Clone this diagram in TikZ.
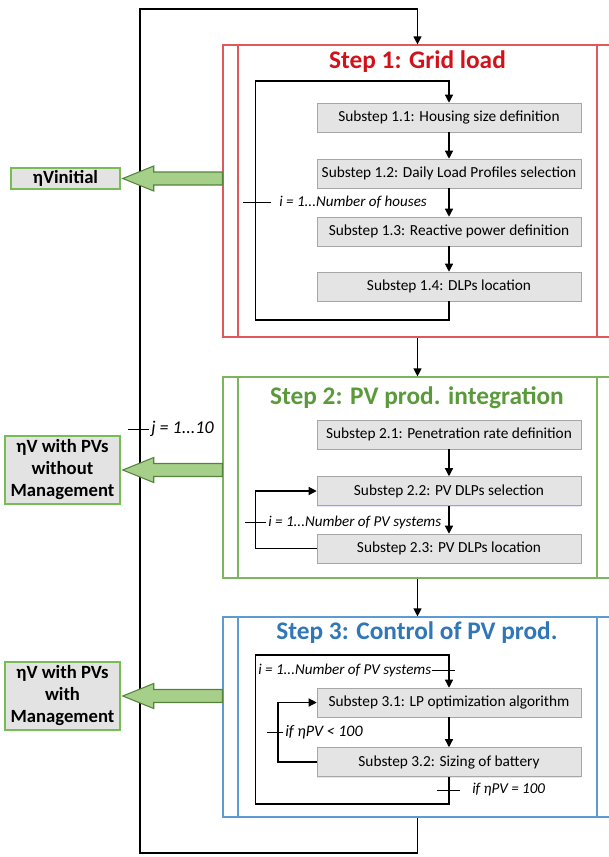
\documentclass[tikz,border=0pt]{standalone}
\usepackage{fontspec}
\setmainfont{Carlito}
\usepackage{tikz}
\usetikzlibrary{arrows.meta,calc,shadows}
\definecolor{stepred}{HTML}{E2575C}
\definecolor{titlered}{HTML}{D3111B}
\definecolor{stepgreen}{HTML}{7DB55E}
\definecolor{titlegreen}{HTML}{5A9A3B}
\definecolor{stepblue}{HTML}{5E9BD3}
\definecolor{titleblue}{HTML}{2F77B8}
\definecolor{subgray}{HTML}{E4E4E4}
\definecolor{arrgreen}{HTML}{A6D08A}
\definecolor{outgreen}{HTML}{78BC55}

\begin{document}
\begin{tikzpicture}[x=0.75pt, y=-0.75pt,
	stepbox/.style={draw=#1, line width=0.9pt, minimum width=291.75pt, path picture={
		\draw[#1, line width=0.9pt] ([xshift=11.25pt]path picture bounding box.north west) -- ([xshift=11.25pt]path picture bounding box.south west)
		([xshift=-11.25pt]path picture bounding box.north east) -- ([xshift=-11.25pt]path picture bounding box.south east);}},
	steptitle/.style={text=#1, font=\fontsize{19}{22}\selectfont\bfseries, inner sep=0pt},
	substep/.style={draw=gray!70, fill=subgray, minimum width=198pt, minimum height=21.75pt, inner sep=0pt,
		font=\fontsize{11.5}{13}\selectfont, drop shadow={shadow xshift=0pt, shadow yshift=-1pt, fill=blue!20, opacity=0.5}},
	result/.style={draw=outgreen, line width=1.1pt, fill=gray!22, font=\fontsize{14}{16.5}\selectfont\bfseries, align=center, inner sep=0pt},
	loopnote/.style={font=\fontsize{11.3}{13}\selectfont\itshape, inner sep=0pt, anchor=west},
	flow/.style={-{Triangle[length=6pt,width=6pt]}, line width=0.9pt},
	bigarrow/.style={draw=outgreen!70!black, fill=arrgreen, line width=0.8pt}]
\useasboundingbox (0,0) rectangle (609,857);

\node[stepbox=stepred, minimum height=219pt] (s1) at (417.5,191) {};
\node[stepbox=stepgreen, minimum height=150.75pt] (s2) at (417.5,477.5) {};
\node[stepbox=stepblue, minimum height=150pt] (s3) at (417.5,717) {};
\node[steptitle=titlered] (t1) at (417.5,62) {Step 1: Grid load};
\node[steptitle=titlegreen] (t2) at (417,398) {Step 2: PV prod. integration};
\node[steptitle=titleblue] (t3) at (417,633) {Step 3: Control of PV prod.};

\node[substep] (p11) at (449,117.5) {Substep 1.1: Housing size definition};
\node[substep] (p12) at (449,173.5) {Substep 1.2: Daily Load Profiles selection};
\node[substep] (p13) at (449,231.5) {Substep 1.3: Reactive power definition};
\node[substep] (p14) at (449,286.5) {Substep 1.4: DLPs location};
\node[substep] (p21) at (449,434.5) {Substep 2.1: Penetration rate definition};
\node[substep] (p22) at (449,491) {Substep 2.2: PV DLPs selection};
\node[substep] (p23) at (449,548.5) {Substep 2.3: PV DLPs location};
\node[substep] (p31) at (449,702.5) {Substep 3.1: LP optimization algorithm};
\node[substep] (p32) at (449,762) {Substep 3.2: Sizing of battery};

\node[result, minimum width=81.75pt, minimum height=15.75pt] (o1) at (65.5,178.5) {ηVinitial};
\node[result, minimum width=86.25pt, minimum height=51pt] (o2) at (62.5,470) {ηV with PVs\\without\\Management};
\node[result, minimum width=86.25pt, minimum height=51pt] (o3) at (62.5,696) {ηV with PVs\\with\\Management};

\coordinate (k1) at (255.5,320);
\coordinate (k2) at (255.5,81);
\coordinate (k3) at (255.5,491);
\coordinate (k4) at (255.5,804);
\coordinate (k5) at (255.5,655);
\coordinate (k6) at (278,762);
\coordinate (k7) at (140,853);
\coordinate (k8) at (140,9);

\draw[flow] (s3.south) |- (k7) -- (k8) -| (s1.north);
\draw[flow] (s1) -- (s2);
\draw[flow] (s2) -- (s3);
\draw[flow] (p14.south) |- (k1) -- (k2) -| (p11.north);
\draw[flow] (p11) -- (p12);
\draw[flow] (p12) -- (p13);
\draw[flow] (p13) -- (p14);
\draw[flow] (p21) -- (p22);
\draw[flow] (p22) -- (p23);
\draw[flow] (p23.west) -| (k3) -- (p22.west);
\draw[flow] (p31) -- (p32);
\draw[flow] (p32.south) |- (k4) -- (k5) -| (p31.north);
\draw[flow] (p32.west) -- (k6) |- (p31.west);

\node[loopnote] (n1) at (279,202) {i = 1...Number of houses};
\node[loopnote] (n2) at (268,522) {i = 1...Number of PV systems};
\node[loopnote, font=\fontsize{13.5}{15}\selectfont\itshape] (nj) at (151,429) {j = 1...10};
\node[loopnote] (n3) at (258,670) {i = 1...Number of PV systems};
\node[loopnote, font=\fontsize{12}{14}\selectfont\itshape] (n4) at (285,732) {if ηPV < 100};
\node[loopnote] (n5) at (472,790) {if ηPV = 100};
\draw ([xshift=-6pt]n1.west) -- ++(-28,0);
\draw ([xshift=-1.5pt]n2.west) -- ++(-21,0);
\draw ([xshift=-1.5pt]nj.west) -- ++(-21,0);
\draw (n3.east) -- ++(23,0);
\draw ([xshift=-1.5pt]n4.west) -- ++(-16,0);
\draw ([xshift=-9pt]n5.west) -- ++(-23,0);

\foreach \o/\s in {o1/s1,o2/s2,o3/s3}
	\draw[bigarrow] ([xshift=1.5pt]\o.east) -- ++(31,-12.5) -- ++(0,6) -- ($(\s.west |- \o.east)+(0,-6.5)$) -- ++(0,13)
		-- ($([xshift=1.5pt]\o.east)+(31,6.5)$) -- ++(0,6) -- cycle;
\end{tikzpicture}
\end{document}
